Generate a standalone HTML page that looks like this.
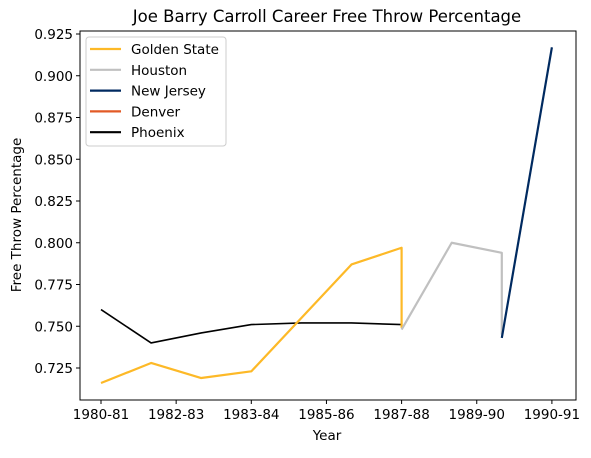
<!DOCTYPE html>
<html><head><meta charset="utf-8"><style>
body{margin:0;background:#fff;}
svg text{font-family:"DejaVu Sans","Liberation Sans",sans-serif;fill:#000;}
</style></head><body>
<svg id="chart" width="591" height="453" xmlns="http://www.w3.org/2000/svg">
<text x="327" y="22" font-size="16.5" text-anchor="middle">Joe Barry Carroll Career Free Throw Percentage</text>
<g id="marks"></g>
<rect x="80" y="31" width="496" height="369" fill="none" stroke="#000" stroke-width="1"/>
<g id="xticks"></g><g id="yticks"></g>
<text x="327" y="440" font-size="13.5" text-anchor="middle">Year</text>
<text transform="translate(21,215) rotate(-90)" font-size="13.5" text-anchor="middle">Free Throw Percentage</text>
<g id="legend">
<rect x="86" y="37" width="140" height="109" rx="3" fill="#fff" fill-opacity="0.8" stroke="#ccc"/>
</g>
</svg>
<script>
const xTickPos=[0,1.5,3,4.5,6,7.5,9];
const xTickLabels=["1980-81","1982-83","1983-84","1985-86","1987-88","1989-90","1990-91"];
const yTicks=[0.725,0.750,0.775,0.800,0.825,0.850,0.875,0.900,0.925];
const teams=["Golden State","Houston","New Jersey","Denver","Phoenix"];
const colors=["#FDB927","#C0C0C0","#002A60","#E25A26","#000000"];
const gsX=[0,1,2,3,5,6,6];
const gsY=[0.716,0.728,0.719,0.723,0.787,0.797,0.749];
const houX=[6,7,8,8];
const houY=[0.748,0.800,0.794,0.745];
const njX=[8,9];
const njY=[0.743,0.917];
const phxX=[0,1,2,3,4,5,6];
const phxY=[0.760,0.740,0.746,0.751,0.752,0.752,0.751];
const NS="http://www.w3.org/2000/svg";
const xs=v=>101+v*50.1;
const ys=v=>34+(0.925-v)/0.025*41.75;
function mk(tag,attrs,parent){const e=document.createElementNS(NS,tag);for(const k in attrs)e.setAttribute(k,attrs[k]);parent.appendChild(e);return e;}
const marks=document.getElementById('marks');
function line(X,Y,c,w,name){
 const p=mk('polyline',{points:X.map((x,i)=>xs(x)+','+ys(Y[i])).join(' '),fill:'none',stroke:c,'stroke-width':w,'stroke-linejoin':'round'},marks);
 
 
}
line(phxX,phxY,colors[4],1.6,'phoenix-line');
line(gsX,gsY,colors[0],2.2,'golden-state-line');
line(houX,houY,colors[1],2.2,'houston-line');
line(njX,njY,colors[2],2.2,'new-jersey-line');
const xt=document.getElementById('xticks');
xTickPos.forEach((v,i)=>{
 mk('line',{x1:xs(v),x2:xs(v),y1:400,y2:404,stroke:'#000'},xt);
 const t=mk('text',{x:xs(v),y:419,'font-size':13.5,'text-anchor':'middle'},xt);
 t.textContent=xTickLabels[i];
 
 
});
const yt=document.getElementById('yticks');
yTicks.forEach(v=>{
 mk('line',{x1:76,x2:80,y1:ys(v),y2:ys(v),stroke:'#000'},yt);
 const t=mk('text',{x:73,y:ys(v)+5,'font-size':13.5,'text-anchor':'end'},yt);
 t.textContent=v.toFixed(3);
 
 
});
const lg=document.getElementById('legend');
teams.forEach((n,i)=>{
 const y=49+i*20.8;
 const g=mk('g',{},lg);
 
 
 mk('line',{x1:90,x2:121,y1:y,y2:y,stroke:colors[i],'stroke-width':2.2},g);
 const t=mk('text',{x:131,y:y+5,'font-size':13.5},g);
 t.textContent=n;
});
</script>
</body></html>
